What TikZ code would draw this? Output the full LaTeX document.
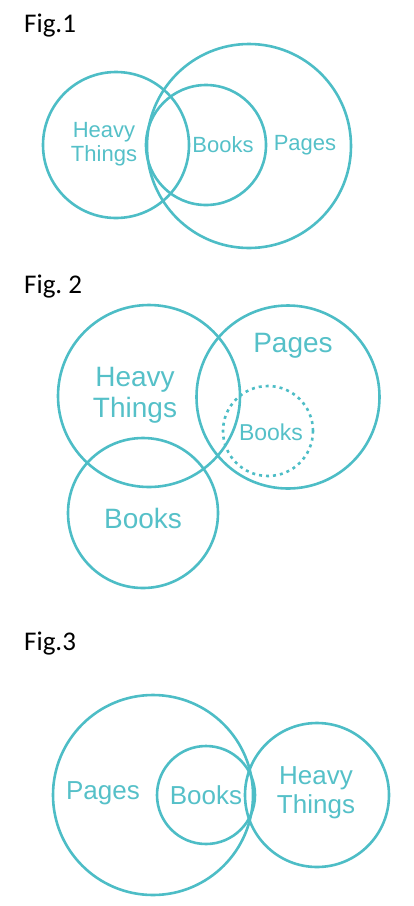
\documentclass[tikz,border=0pt]{standalone}
\usepackage{fontspec}
\setmainfont{Liberation Sans}
\newfontfamily\figfont{Carlito}
\definecolor{vennteal}{HTML}{4DBDC6}
\definecolor{vennlabel}{HTML}{55C0C8}
\tikzset{
  ring/.style={circle, draw=vennteal, line width=2.6pt, inner sep=0pt, minimum size=#1},
  tag/.style n args={2}{text=vennlabel, align=center, inner sep=0pt, font=\fontsize{#1}{#2}\selectfont},
  figtag/.style={anchor=base west, inner sep=0pt, font=\figfont\fontsize{27}{29}\selectfont}
}

\begin{document}
\begin{tikzpicture}[x=1pt, y=-1pt]
  \useasboundingbox (0,0) rectangle (414,906);

  % Fig.1
  \node[figtag] (fig1) at (24,32) {Fig.1};
  \node[ring=146pt] (heavy1) at (116,145) {};
  \node[ring=120pt] (books1) at (206,145) {};
  \node[ring=204pt] (pages1) at (249,146) {};
  \node[tag={22}{24.5}] (heavylbl1) at (104,144) {Heavy\\Things};
  \node[tag={22}{24.5}] (bookslbl1) at (223,145) {Books};
  \node[tag={22}{24.5}] (pageslbl1) at (305,145) {Pages};

  % Fig. 2
  \node[figtag] (fig2) at (24,293) {Fig.~2};
  \node[ring=182pt] (heavy2) at (149,396) {};
  \node[ring=183pt] (pages2) at (288,397) {};
  \node[ring=90pt, dash pattern=on 3pt off 4pt] (booksdash2) at (268,431) {};
  \node[ring=150pt] (books2) at (143,513) {};
  \node[tag={28}{31}] (heavylbl2) at (135,395) {Heavy\\Things};
  \node[tag={28}{31}] (pageslbl2) at (293,346) {Pages};
  \node[tag={23}{25}] (bookslbl2) at (271,432) {Books};
  \node[tag={28}{31}] (bookslbl2b) at (143,518) {Books};

  % Fig.3
  \node[figtag] (fig3) at (24,650) {Fig.3};
  \node[ring=200pt] (pages3) at (153,795) {};
  \node[ring=98pt] (books3) at (206,795) {};
  \node[ring=144pt] (heavy3) at (317,795) {};
  \node[tag={26}{29}] (pageslbl3) at (103,793) {Pages};
  \node[tag={26}{29}] (bookslbl3) at (206,795) {Books};
  \node[tag={26}{29}] (heavylbl3) at (316,793) {Heavy\\Things};
\end{tikzpicture}
\end{document}
